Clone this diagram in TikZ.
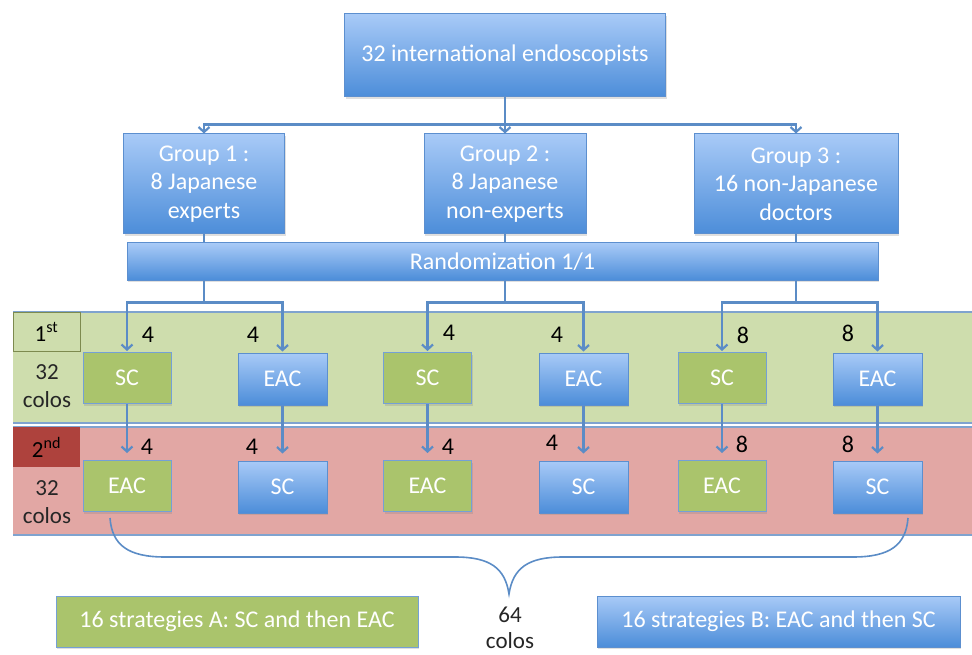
\documentclass[tikz,border=0pt]{standalone}
\usepackage{fontspec}
\setmainfont{Carlito}
\usetikzlibrary{arrows.meta,shadows}
\definecolor{bluetop}{HTML}{A8CAF7}
\definecolor{bluebot}{HTML}{4C8DD9}
\definecolor{bluedraw}{HTML}{5C8FCF}
\definecolor{greenfill}{HTML}{AAC46C}
\definecolor{lineblue}{HTML}{5B8CC6}
\definecolor{bandgreen}{HTML}{CEDDAD}
\definecolor{bandred}{HTML}{E2A7A4}
\definecolor{darkred}{HTML}{AE423D}
\definecolor{olivedraw}{HTML}{7D8A4F}
\definecolor{bandline}{HTML}{7FA3CF}
\begin{document}
\begin{tikzpicture}[x=1pt,y=-1pt,
  shad/.style={drop shadow={shadow xshift=1pt,shadow yshift=-2pt,opacity=0.25}},
  bluebox/.style={shad,draw=bluedraw,line width=1pt,top color=bluetop,bottom color=bluebot,
    text=white,align=center,inner sep=0pt},
  greenbox/.style={shad,draw=bluedraw!85,line width=1pt,fill=greenfill,
    text=white,align=center,inner sep=0pt},
  big/.style={font=\fontsize{24}{28.5}\selectfont},
  mid/.style={font=\fontsize{24}{24}\selectfont},
  arr/.style={draw=lineblue,line width=2.2pt,-{Straight Barb[length=5pt,width=11pt]}},
  num/.style={font=\fontsize{24}{24}\selectfont,text=black,inner sep=0pt},
  side/.style={font=\fontsize{23}{28}\selectfont,text=black!85,align=center,inner sep=0pt},
  brace/.style={draw=lineblue,line width=1.6pt}]
\useasboundingbox (0,0) rectangle (972,655);
% bands
\fill[bandgreen] (13,312) rectangle (972,423);
\draw[bandline,line width=1.5pt] (13,312) -- (972,312) (13,423) -- (972,423);
\fill[bandred] (13,427) rectangle (972,535);
\draw[bandline,line width=1.5pt] (13,427) -- (972,427) (13,535) -- (972,535);
% side labels
\node[draw=olivedraw,line width=1pt,fill=bandgreen,minimum width=67pt,minimum height=39pt,inner sep=0pt,
  font=\fontsize{23}{23}\selectfont] (first) at (46.5,331.5) {1\textsuperscript{st}};
\node[side] (c1) at (47,386) {32\\colos};
\node[fill=darkred,minimum width=67pt,minimum height=40pt,inner sep=0pt,
  font=\fontsize{23}{23}\selectfont] (second) at (46.5,447) {2\textsuperscript{nd}};
\node[side] (c2) at (47,502) {32\\colos};
% top
\node[bluebox,big,minimum width=321pt,minimum height=83pt] (top) at (505,55.5) {32 international endoscopists};
\node[bluebox,big,minimum width=161pt,minimum height=100pt] (g1) at (204,184) {Group 1 :\\8 Japanese\\experts};
\node[bluebox,big,minimum width=162pt,minimum height=100pt] (g2) at (505,184) {Group 2 :\\8 Japanese\\non-experts};
\node[bluebox,big,minimum width=204pt,minimum height=100pt] (g3) at (796,184) {Group 3 :\\16 non-Japanese\\doctors};
\node[bluebox,big,minimum width=751pt,minimum height=37pt] (rand) at (502.5,261.5) {Randomization 1/1};
% row 1
\node[greenbox,mid,minimum width=88pt,minimum height=51pt] (a1) at (127,378) {SC};
\node[bluebox,mid,minimum width=89pt,minimum height=52pt] (a2) at (282.5,379) {EAC};
\node[greenbox,mid,minimum width=88pt,minimum height=51pt] (a3) at (427.5,378) {SC};
\node[bluebox,mid,minimum width=89pt,minimum height=52pt] (a4) at (583.5,379) {EAC};
\node[greenbox,mid,minimum width=88pt,minimum height=51pt] (a5) at (722,378) {SC};
\node[bluebox,mid,minimum width=89pt,minimum height=52pt] (a6) at (877.5,379) {EAC};
% row 2
\node[greenbox,mid,minimum width=88pt,minimum height=51pt] (b1) at (127,486) {EAC};
\node[bluebox,mid,minimum width=89pt,minimum height=52pt] (b2) at (282.5,487) {SC};
\node[greenbox,mid,minimum width=88pt,minimum height=51pt] (b3) at (427.5,486) {EAC};
\node[bluebox,mid,minimum width=89pt,minimum height=52pt] (b4) at (583.5,487) {SC};
\node[greenbox,mid,minimum width=88pt,minimum height=51pt] (b5) at (722,486) {EAC};
\node[bluebox,mid,minimum width=89pt,minimum height=52pt] (b6) at (877.5,487) {SC};
% bottom
\node[greenbox,big,minimum width=362pt,minimum height=51pt] (sa) at (237,621.5) {16 strategies A: SC and then EAC};
\node[bluebox,big,minimum width=363pt,minimum height=51pt] (sb) at (778.5,621.5) {16 strategies B: EAC and then SC};
\node[font=\fontsize{23}{26}\selectfont,align=center,inner sep=0pt,text=black!85] (total) at (510,628) {64\\colos};
% numbers
\node[num] (n1) at (148,335) {4};
\node[num] (n2) at (253,335) {4};
\node[num] (n3) at (449,333) {4};
\node[num] (n4) at (557,335) {4};
\node[num] (n5) at (743,335) {8};
\node[num] (n6) at (848,333) {8};
\node[num] (m1) at (147,447) {4};
\node[num] (m2) at (252,447) {4};
\node[num] (m3) at (448,447) {4};
\node[num] (m4) at (552,443) {4};
\node[num] (m5) at (742,444) {8};
\node[num] (m6) at (848,444) {8};
% connectors top
\draw[arr] (top.south) -- ++(0,27) -| (g1.north);
\draw[arr] (top.south) -- ++(0,27) -| (g3.north);
\draw[arr] (top.south) -- (g2.north);
\draw[draw=lineblue,line width=2.2pt] (g1.south) -- (g1.south |- rand.north);
\draw[draw=lineblue,line width=2.2pt] (g2.south) -- (g2.south |- rand.north);
\draw[draw=lineblue,line width=2.2pt] (g3.south) -- (g3.south |- rand.north);
% randomization splits
\draw[arr,shorten >=1pt] (g1.south |- rand.south) -- ++(0,22) -| (a1.north);
\draw[arr,shorten >=1pt] (g1.south |- rand.south) -- ++(0,22) -| (a2.north);
\draw[arr,shorten >=1pt] (g2.south |- rand.south) -- ++(0,22) -| (a3.north);
\draw[arr,shorten >=1pt] (g2.south |- rand.south) -- ++(0,22) -| (a4.north);
\draw[arr,shorten >=1pt] (g3.south |- rand.south) -- ++(0,22) -| (a5.north);
\draw[arr,shorten >=1pt] (g3.south |- rand.south) -- ++(0,22) -| (a6.north);
% row1 to row2
\draw[arr,shorten >=7pt] (a1.south) -- (b1.north);
\draw[arr,shorten >=7pt] (a2.south) -- (b2.north);
\draw[arr,shorten >=7pt] (a3.south) -- (b3.north);
\draw[arr,shorten >=7pt] (a4.south) -- (b4.north);
\draw[arr,shorten >=7pt] (a5.south) -- (b5.north);
\draw[arr,shorten >=7pt] (a6.south) -- (b6.north);
% brace
\coordinate (bl) at (110,518);
\coordinate (br) at (908,518);
\coordinate (bt) at (509,594);
\draw[brace] (bl) .. controls (112,545) and (128,557) .. (165,557) -- (455,557)
  .. controls (490,557) and (505,568) .. (bt)
  .. controls (513,568) and (528,557) .. (563,557) -- (853,557)
  .. controls (890,557) and (906,545) .. (br);
\end{tikzpicture}
\end{document}
